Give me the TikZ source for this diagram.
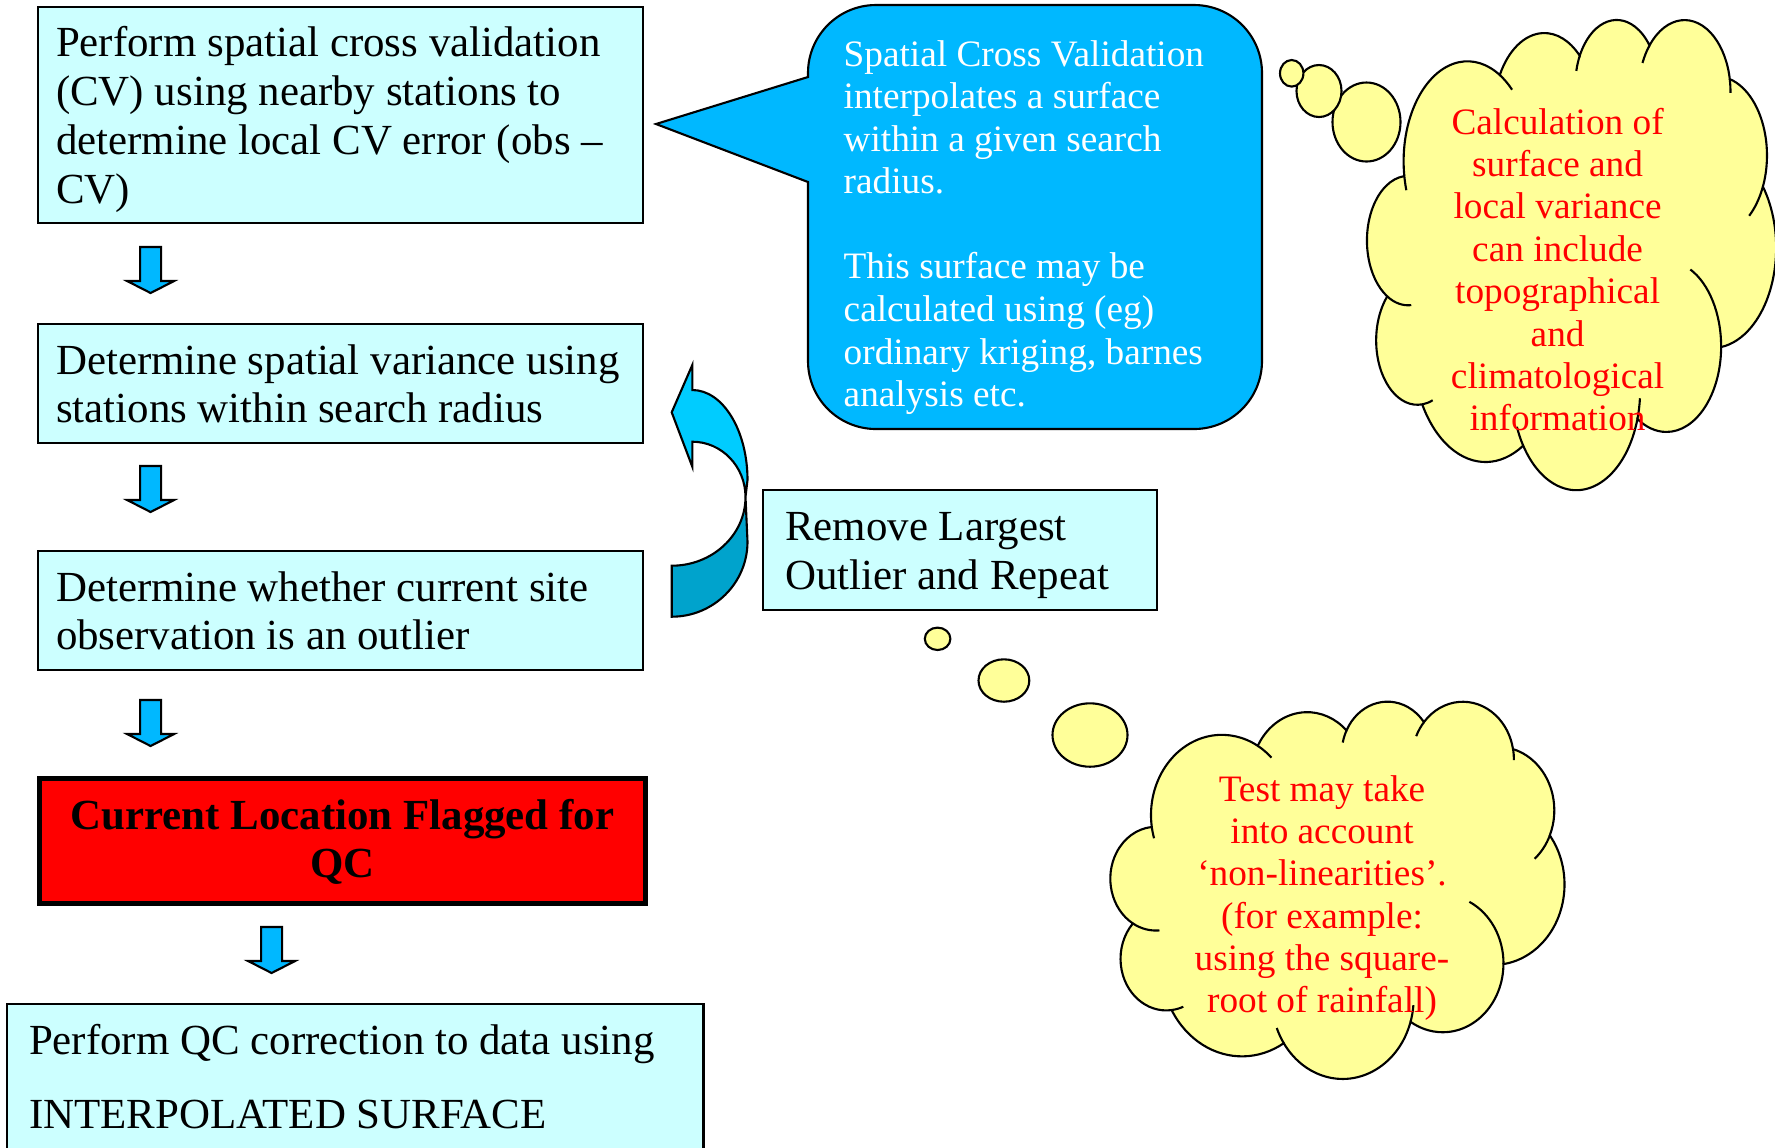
\documentclass[tikz,border=0pt]{standalone}
\usepackage{fontspec}
\setmainfont{Liberation Serif}
\usetikzlibrary{calc}

\definecolor{boxcyan}{RGB}{204,255,255}
\definecolor{callblue}{RGB}{0,184,255}
\definecolor{turnlight}{RGB}{0,204,255}
\definecolor{turndark}{RGB}{0,163,204}
\definecolor{cloudyellow}{RGB}{255,255,153}

\tikzset{
  stepbox/.style={draw=black, line width=0.6pt, fill=boxcyan, anchor=north west,
    align=flush left, inner xsep=0.18cm, inner ysep=0pt, font=\fontsize{12.2}{13.85}\selectfont,
    execute at begin node={\rule{0pt}{12.6pt}}, execute at end node=\strut},
  flagbox/.style={draw=black, line width=1.3pt, fill=red, anchor=north west,
    align=flush center, inner xsep=0.16cm, inner ysep=0pt, font=\fontsize{12.2}{13.85}\selectfont\bfseries,
    execute at begin node={\rule{0pt}{11.3pt}}, execute at end node=\strut},
  cloudline/.style={draw=black, line width=0.6pt, fill=cloudyellow},
  cloudtext/.style={text=red, align=center, inner sep=0pt, font=\fontsize{10.6}{12.05}\selectfont},
  pics/downarrow/.style={code={
    \draw[line width=0.6pt, fill=callblue] (-10.5,0) -- (10.5,0) -- (10.5,34) -- (23.5,34)
      -- (0,46) -- (-23.5,34) -- (-10.5,34) -- cycle;
  }},
  pics/thinkcloud/.style={code={
    \draw[cloudline] (39,143.7) coordinate (-j0)
      arc[start angle=172.253, end angle=300.365, x radius=67.53, y radius=91.90] coordinate (-j1)
      arc[start angle=-152.021, end angle=-45.433, x radius=53.33, y radius=72.67] coordinate (-j2)
      arc[start angle=-153.490, end angle=-37.332, x radius=43.65, y radius=59.45] coordinate (-j3)
      arc[start angle=-139.708, end angle=-10.211, x radius=48.57, y radius=65.95] coordinate (-j4)
      arc[start angle=-74.768, end angle=23.210, x radius=53.33, y radius=72.73] coordinate (-j5)
      arc[start angle=-37.530, end angle=81.863, x radius=67.75, y radius=92.20] coordinate (-j6)
      arc[start angle=0.460, end angle=121.979, x radius=57.85, y radius=78.67] coordinate (-j7)
      arc[start angle=16.845, end angle=146.236, x radius=67.52, y radius=92.15] coordinate (-j8)
      arc[start angle=58.982, end angle=150.203, x radius=77.20, y radius=105.43] coordinate (-j9)
      arc[start angle=83.306, end angle=223.115, x radius=43.60, y radius=59.18] coordinate (-j10)
      arc[start angle=120.347, end angle=264.113, x radius=43.45, y radius=59.45] -- cycle;
    % little inner strokes where the puffs overlap
    \foreach \j/\a/\b/\rx/\ry in {j0/172.253/163.194/67.53/91.90, j1/-59.635/-45.735/67.53/91.90,
        j2/-153.490/-167.725/43.65/59.45, j3/-139.708/-156.279/48.57/65.95,
        j4/-10.211/0.820/48.57/65.95, j5/23.210/49.650/53.33/72.73,
        j6/0.460/-64.025/57.85/78.67, j7/16.845/4.738/67.52/92.15,
        j8/146.236/158.471/67.52/92.15, j9/83.306/68.235/43.60/59.18,
        j10/120.347/85.547/43.45/59.45}
      \draw[line width=0.6pt] (-\j) arc[start angle=\a, end angle=\b, x radius=\rx, y radius=\ry];
  }}
}

\begin{document}
\begin{tikzpicture}[x=0.01cm, y=-0.01cm]
\useasboundingbox (0,0) rectangle (1775,1147);

% flow boxes
\node[stepbox, minimum width=6.05cm, minimum height=2.16cm, text width=5.69cm] (cv) at (37,6)
  {Perform spatial cross validation\\ (CV) using nearby stations to\\ determine local CV error (obs –\\ CV)};
\node[stepbox, minimum width=6.05cm, minimum height=1.19cm, text width=5.69cm] (var) at (37,323)
  {Determine spatial variance using\\ stations within search radius};
\node[stepbox, minimum width=6.05cm, minimum height=1.19cm, text width=5.69cm] (outl) at (37,550)
  {Determine whether current site\\ observation is an outlier};
\node[flagbox, minimum width=6.06cm, minimum height=1.25cm, text width=5.74cm] (flag) at (37,776)
  {Current Location Flagged for\\ QC};
\node[stepbox, minimum width=6.96cm, minimum height=1.52cm, text width=6.52cm, inner xsep=0.22cm,
  font=\fontsize{12.2}{20.9}\selectfont] (corr) at (6,1003)
  {Perform QC correction to data using\\ INTERPOLATED SURFACE};
\node[stepbox, minimum width=3.94cm, minimum height=1.2cm, text width=3.5cm, inner xsep=0.22cm] (rem) at (762,489)
  {Remove Largest\\ Outlier and Repeat};

% block arrows
\coordinate (d1) at (150.6,247);
\coordinate (d2) at (150.6,466);
\coordinate (d3) at (150.6,700);
\coordinate (d4) at (271.6,927);
\foreach \p in {d1,d2,d3,d4}
  \pic at (\p) {downarrow};

% turning arrow
\coordinate (T) at (692.3,365);
\coordinate (L) at (671.7,412.3);
\coordinate (B) at (692.3,466.7);
\coordinate (N1) at (692.3,390);
\coordinate (N2) at (692.3,441.7);
\coordinate (X) at (745.5,497);
\coordinate (O) at (671.7,616.7);
\coordinate (I) at (671.7,565.7);
\draw[line width=0.6pt, fill=turndark] (X) -- (747.5,541.7) .. controls (747.5,583.1) and (713.5,616.7) .. (O)
  -- (I) .. controls (712.4,565.7) and (745.5,534.9) .. (X) -- cycle;
\draw[line width=0.6pt, fill=turnlight] (T) -- (L) -- (B) -- (N2) .. controls (721.7,441.7) and (745.5,466.5) .. (X)
  -- (747.5,480) .. controls (747.5,430.3) and (722.8,390) .. (N1) -- cycle;

% callout
\draw[line width=0.6pt, fill=callblue] (808,77) -- (656,124) -- (808,182) -- (808,361)
  arc[start angle=180, end angle=90, radius=68] -- (1194,429)
  arc[start angle=90, end angle=0, radius=68] -- (1262,73)
  arc[start angle=0, end angle=-90, radius=68] -- (876,5)
  arc[start angle=-90, end angle=-180, radius=68] -- cycle;
\node[text=white, align=flush left, text width=3.9cm, inner sep=0pt, anchor=west,
  font=\fontsize{10.6}{12.1}\selectfont] (calltext) at (843,227.5)
  {Spatial Cross Validation\\ interpolates a surface\\ within a given search\\ radius.\\[12.1pt]
   This surface may be\\ calculated using (eg)\\ ordinary kriging, barnes\\ analysis etc.};

% upper cloud
\draw[cloudline] (1366.5,122) ellipse [x radius=34, y radius=39.5];
\draw[cloudline] (1319,91) ellipse [x radius=22.5, y radius=26];
\draw[cloudline] (1291.7,73.3) ellipse [x radius=11.7, y radius=13.3];
\begin{scope}[shift={(1367.3,18.4)}, xscale=0.946, yscale=1.088]
  \pic[transform shape] (cA) at (0,0) {thinkcloud};
\end{scope}
\node[cloudtext] (calc) at (1557.6,269.6)
  {Calculation of\\ surface and\\ local variance\\ can include\\ topographical\\ and\\ climatological\\ information};

% lower cloud
\draw[cloudline] (1090,735) ellipse [x radius=37.5, y radius=31.7];
\draw[cloudline] (1003.9,680.5) ellipse [x radius=25.4, y radius=21.2];
\draw[cloudline] (937.6,638.8) ellipse [x radius=12.8, y radius=11.2];
\begin{scope}[shift={(1110.7,700.4)}, xscale=1.050, yscale=0.873]
  \pic[transform shape] (cB) at (0,0) {thinkcloud};
\end{scope}
\node[cloudtext] (test) at (1322,898)
  {Test may take\\ into account\\ ‘non-linearities’.\\ (for example:\\ using the square-\\ root of rainfall)};
\end{tikzpicture}
\end{document}
